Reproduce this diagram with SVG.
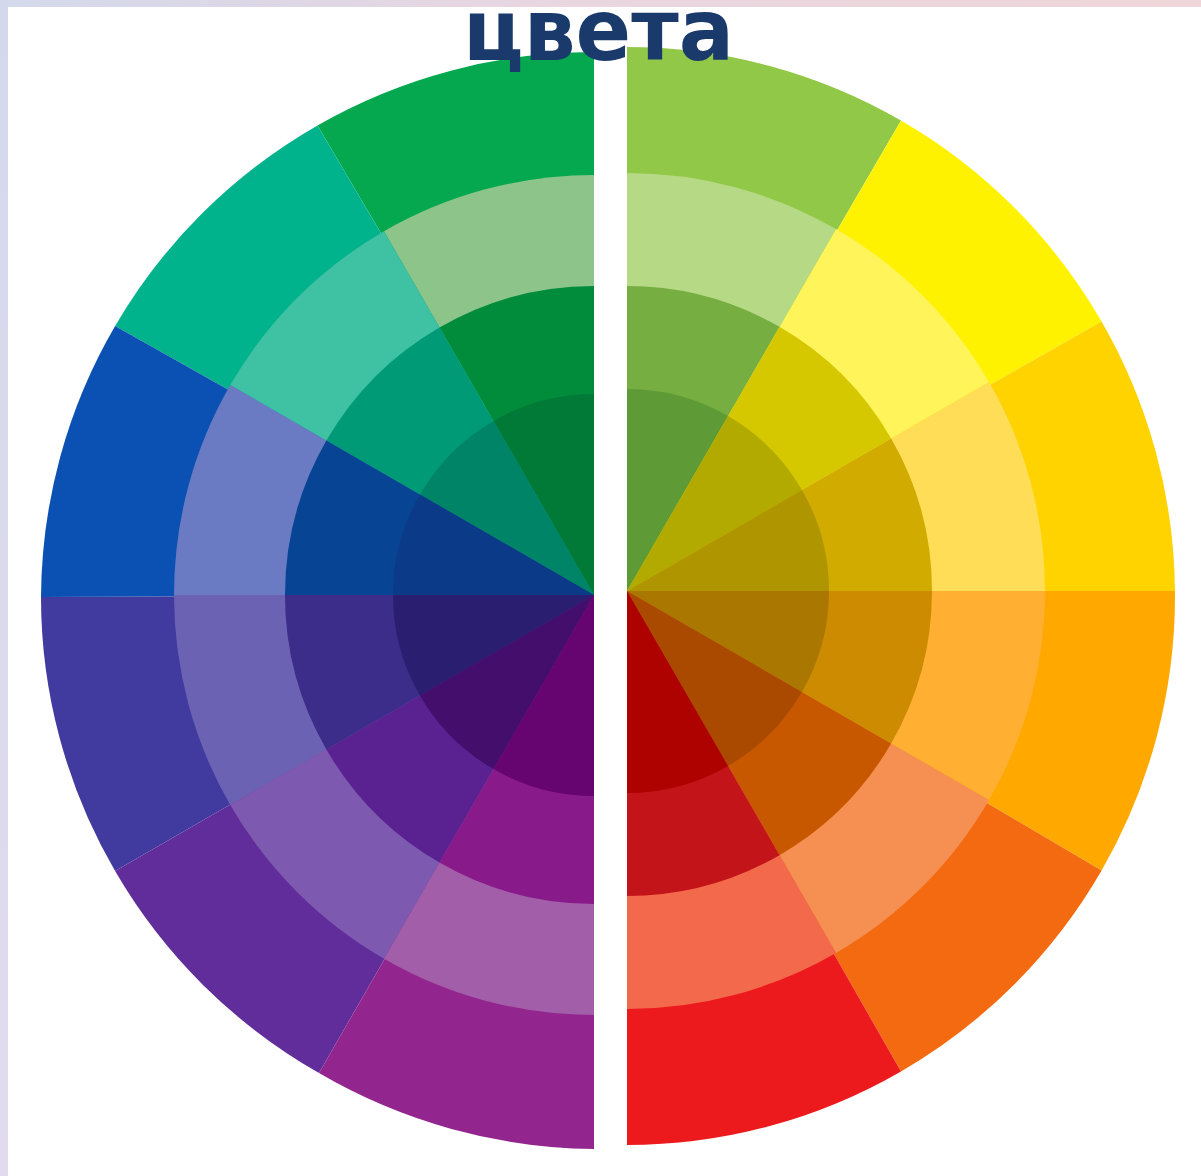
<svg xmlns="http://www.w3.org/2000/svg" width="1201" height="1176" viewBox="0 0 1201 1176">
<defs>
<linearGradient id="topStrip" x1="0" y1="0" x2="1" y2="0">
<stop offset="0" stop-color="#d3d9eb"/>
<stop offset="0.45" stop-color="#e8d6e0"/>
<stop offset="1" stop-color="#efd6d9"/>
</linearGradient>
<linearGradient id="leftStrip" x1="0" y1="0" x2="0" y2="1">
<stop offset="0" stop-color="#d3d9eb"/>
<stop offset="1" stop-color="#e2dbee"/>
</linearGradient>
</defs>
<style>
.title{font-family:"DejaVu Sans","Liberation Sans",sans-serif;font-weight:bold;fill:#1a3a6c;}
</style>
<rect x="0" y="0" width="1201" height="1176" fill="#ffffff"/>
<rect x="0" y="0" width="1201" height="7" fill="url(#topStrip)"/>
<rect x="0" y="0" width="8" height="1176" fill="url(#leftStrip)"/>

<g id="left-half">
<g id="left-outer">
<path d="M594 595 L594 52 A553 548 0 0 0 317.5 125.4 Z" fill="#05a84e"/>
<path d="M594 595 L317.5 125.4 A553 548 0 0 0 115.1 326 Z" fill="#00b38d"/>
<path d="M594 595 L115.1 326 A553 548 0 0 0 41 597 Z" fill="#0b50b3"/>
<path d="M594 595 L41 597 A553 548 0 0 0 115.1 871 Z" fill="#413a9f"/>
<path d="M594 595 L115.1 871 A553 548 0 0 0 319 1073 Z" fill="#612d9b"/>
<path d="M594 595 L319 1073 A553 548 0 0 0 594 1149 Z" fill="#93258f"/>
</g>
<g id="left-ring2">
<path d="M594 595 L594 175 A420 420 0 0 0 384 231.27 Z" fill="#8cc48a"/>
<path d="M594 595 L384 231.27 A420 420 0 0 0 230.27 385 Z" fill="#3fc1a3"/>
<path d="M594 595 L230.27 385 A420 420 0 0 0 174 595 Z" fill="#6b7bc3"/>
<path d="M594 595 L174 595 A420 420 0 0 0 230.27 805 Z" fill="#6c62b3"/>
<path d="M594 595 L230.27 805 A420 420 0 0 0 384 958.73 Z" fill="#7e59b0"/>
<path d="M594 595 L384 958.73 A420 420 0 0 0 594 1015 Z" fill="#a35ea9"/>
</g>
<g id="left-ring3">
<path d="M594 595 L594 286 A309 309 0 0 0 439.5 327.4 Z" fill="#008c3b"/>
<path d="M594 595 L439.5 327.4 A309 309 0 0 0 326.4 440.5 Z" fill="#009b76"/>
<path d="M594 595 L326.4 440.5 A309 309 0 0 0 285 595 Z" fill="#074594"/>
<path d="M594 595 L285 595 A309 309 0 0 0 326.4 749.5 Z" fill="#3b2d89"/>
<path d="M594 595 L326.4 749.5 A309 309 0 0 0 439.5 862.6 Z" fill="#5a2290"/>
<path d="M594 595 L439.5 862.6 A309 309 0 0 0 594 904 Z" fill="#891a8a"/>
</g>
<g id="left-ring4">
<path d="M594 595 L594 394 A201 201 0 0 0 493.5 420.93 Z" fill="#007a36"/>
<path d="M594 595 L493.5 420.93 A201 201 0 0 0 419.93 494.5 Z" fill="#008468"/>
<path d="M594 595 L419.93 494.5 A201 201 0 0 0 393 595 Z" fill="#0b3a88"/>
<path d="M594 595 L393 595 A201 201 0 0 0 419.93 695.5 Z" fill="#2a1e71"/>
<path d="M594 595 L419.93 695.5 A201 201 0 0 0 493.5 769.07 Z" fill="#430e6c"/>
<path d="M594 595 L493.5 769.07 A201 201 0 0 0 594 796 Z" fill="#660470"/>
</g>
</g>

<g id="right-half">
<g id="right-outer">
<path d="M627 591 L627 47 A548 549 0 0 1 901 120.55 Z" fill="#92c847"/>
<path d="M627 591 L901 120.55 A548 549 0 0 1 1101.58 321.5 Z" fill="#fff200"/>
<path d="M627 591 L1101.58 321.5 A548 549 0 0 1 1175 591 Z" fill="#ffd300"/>
<path d="M627 591 L1175 591 A548 549 0 0 1 1101.58 870.5 Z" fill="#ffa900"/>
<path d="M627 591 L1101.58 870.5 A548 549 0 0 1 901 1071.45 Z" fill="#f36a10"/>
<path d="M627 591 L901 1071.45 A548 549 0 0 1 627 1145 Z" fill="#ed1a1d"/>
</g>
<g id="right-ring2">
<path d="M627 591 L627 173 A418 418 0 0 1 836 229 Z" fill="#b5d984"/>
<path d="M627 591 L836 229 A418 418 0 0 1 989 382 Z" fill="#fff45a"/>
<path d="M627 591 L989 382 A418 418 0 0 1 1045 591 Z" fill="#ffdd57"/>
<path d="M627 591 L1045 591 A418 418 0 0 1 989 800 Z" fill="#ffb032"/>
<path d="M627 591 L989 800 A418 418 0 0 1 836 953 Z" fill="#f68f52"/>
<path d="M627 591 L836 953 A418 418 0 0 1 627 1009 Z" fill="#f26a4b"/>
</g>
<g id="right-ring3">
<path d="M627 591 L627 286 A305 305 0 0 1 779.5 326.86 Z" fill="#76ae41"/>
<path d="M627 591 L779.5 326.86 A305 305 0 0 1 891.14 438.5 Z" fill="#d6c800"/>
<path d="M627 591 L891.14 438.5 A305 305 0 0 1 932 591 Z" fill="#d1ab00"/>
<path d="M627 591 L932 591 A305 305 0 0 1 891.14 743.5 Z" fill="#cc8b00"/>
<path d="M627 591 L891.14 743.5 A305 305 0 0 1 779.5 855.14 Z" fill="#c85800"/>
<path d="M627 591 L779.5 855.14 A305 305 0 0 1 627 896 Z" fill="#c3141a"/>
</g>
<g id="right-ring4">
<path d="M627 591 L627 389 A202 202 0 0 1 728 416.06 Z" fill="#5e9a36"/>
<path d="M627 591 L728 416.06 A202 202 0 0 1 801.94 490 Z" fill="#b3aa00"/>
<path d="M627 591 L801.94 490 A202 202 0 0 1 829 591 Z" fill="#af9500"/>
<path d="M627 591 L829 591 A202 202 0 0 1 801.94 692 Z" fill="#aa7800"/>
<path d="M627 591 L801.94 692 A202 202 0 0 1 728 765.94 Z" fill="#aa4a00"/>
<path d="M627 591 L728 765.94 A202 202 0 0 1 627 793 Z" fill="#ad0200"/>
</g>
</g>

<text id="title" class="title" x="463" y="60" font-size="86" textLength="271" lengthAdjust="spacingAndGlyphs">цвета</text>
</svg>
